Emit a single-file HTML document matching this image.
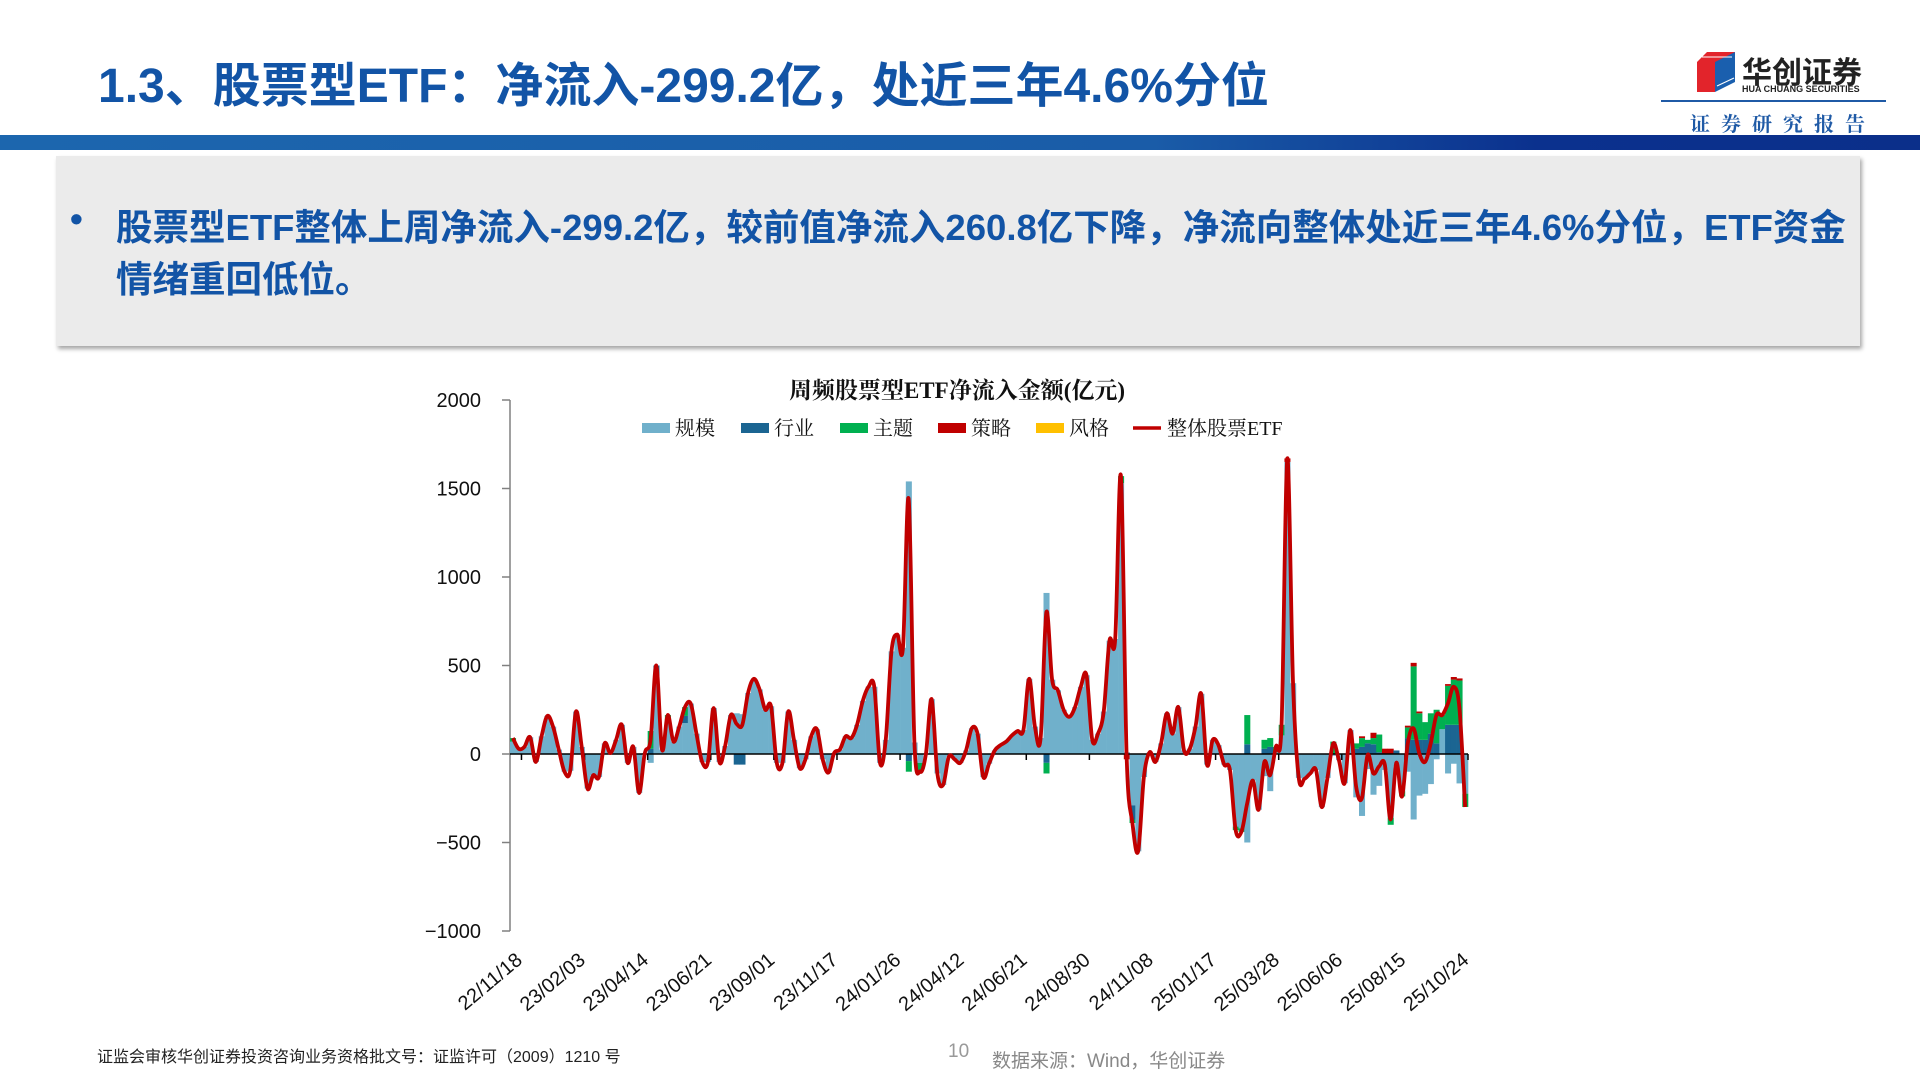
<!DOCTYPE html>
<html><head><meta charset="utf-8">
<style>
body{margin:0;width:1920px;height:1080px;background:#fff;position:relative;overflow:hidden;font-family:"Liberation Sans","Noto Sans CJK SC",sans-serif;}
.abs{position:absolute;}
#title{left:98px;top:46px;font-size:48px;font-weight:bold;color:#1254A6;white-space:nowrap;letter-spacing:0px;}
#topbar{left:0;top:135px;width:1920px;height:15px;background:linear-gradient(90deg,#1C66AE 0%,#1A5CA8 60%,#0B318E 80%,#0B2F8A 100%);}
#box{left:56px;top:156px;width:1804px;height:190px;background:#EBEBEB;box-shadow:2px 3px 4px rgba(0,0,0,0.35);}
.bt{font-size:36.5px;font-weight:bold;color:#1254A6;white-space:nowrap;}
#foot1{left:97px;top:1043px;font-size:16px;color:#222;}
#pg{left:948px;top:1041px;font-size:19px;color:#999;}
#src{left:992px;top:1046px;font-size:19px;color:#888;}
</style></head>
<body>
<div id="title" class="abs">1.3、股票型ETF：净流入-299.2亿，处近三年4.6%分位</div>
<div class="abs" style="left:1690px;top:48px;width:200px;height:100px;">
  <svg width="200" height="100">
    <polygon points="7,14 17,4 45,4 35,14" fill="#E2242B"/>
    <polygon points="7,14 25,14 25,44 7,44" fill="#E2242B"/>
    <polygon points="25,14 45,4 45,34 25,44" fill="#1A5FAE"/>
    <line x1="12" y1="9" x2="42" y2="9" stroke="#fff" stroke-width="1"/>
    <line x1="27" y1="38" x2="44" y2="30" stroke="#fff" stroke-width="1"/>
  </svg>
  <div class="abs" style="left:52px;top:0px;font-size:30px;font-weight:bold;color:#222;white-space:nowrap;">华创证券</div>
  <div class="abs" style="left:52px;top:36px;font-size:9px;font-weight:bold;color:#222;white-space:nowrap;">HUA CHUANG SECURITIES</div>
</div>
<div class="abs" style="left:1661px;top:100px;width:225px;height:2px;background:#1F5AA6;"></div>
<div class="abs" style="left:1690px;top:108px;font-size:20px;font-weight:bold;color:#1F5AA6;letter-spacing:11px;font-family:'Noto Serif CJK SC',serif;white-space:nowrap;">证券研究报告</div>
<div id="topbar" class="abs"></div>
<div id="box" class="abs"></div>
<div class="abs bt" style="left:70px;top:198px;">•</div>
<div class="abs bt" style="left:116px;top:198px;">股票型ETF整体上周净流入-299.2亿，较前值净流入260.8亿下降，净流向整体处近三年4.6%分位，ETF资金</div>
<div class="abs bt" style="left:116px;top:250px;">情绪重回低位。</div>

<svg id="chart" class="abs" style="left:0;top:0" width="1920" height="1080"></svg>

<div id="foot1" class="abs">证监会审核华创证券投资咨询业务资格批文号：证监许可（2009）1210 号</div>
<div id="pg" class="abs">10</div>
<div id="src" class="abs">数据来源：Wind，华创证券</div>

<script>
const xLabels = ['22/11/18','23/02/03','23/04/14','23/06/21','23/09/01','23/11/17','24/01/26','24/04/12','24/06/21','24/08/30','24/11/08','25/01/17','25/03/28','25/06/06','25/08/15','25/10/24'];
const yTicks = [2000,1500,1000,500,0,-500,-1000];
const seriesNames = ['规模','行业','主题','策略','风格'];
const lineName = '整体股票ETF';
const totalVals = [
90,30,40,95,-45,100,215,155,25,-100,
-95,240,40,-195,-120,-130,60,5,80,165,
-50,40,-220,5,80,500,25,220,70,155,
265,285,115,-45,-45,260,-45,45,220,170,
165,345,425,365,250,270,-50,-50,240,80,
-80,-30,100,140,-30,-105,5,25,100,90,
165,300,380,380,-50,80,580,675,600,1440,
65,-100,0,310,-110,-175,-15,-30,-50,20,
145,115,-130,-55,20,50,70,105,130,135,
425,155,90,800,420,360,250,210,265,380,
445,80,115,240,640,650,1570,-20,-390,-550,
-130,10,-45,60,230,115,265,20,30,155,
340,-60,80,50,-60,-90,-430,-440,-280,-150,
-315,-45,-120,40,165,1670,400,-135,-140,-110,
-90,-300,-135,60,-35,-165,135,-185,-250,-5,
-110,-70,-60,-370,-50,-240,60,145,5,-45,
60,220,220,285,380,260.8,-299.2];
const scaleVals = [
70,30,40,95,-45,100,215,155,25,-100,
-95,240,40,-195,-120,-130,60,5,80,165,
-50,40,-220,5,-50,440,25,190,70,155,
175,285,115,-45,-45,260,-45,45,220,230,
225,345,425,365,250,270,-50,-50,240,80,
-80,-30,100,140,-30,-105,5,25,100,90,
165,300,380,380,-50,80,580,675,600,1540,
65,-50,0,310,-110,-175,-15,-30,-50,20,
145,115,-130,-55,20,50,70,105,130,135,
425,155,90,910,420,360,250,210,265,380,
445,80,115,240,640,650,1530,10,-290,-550,
-130,10,-45,60,230,115,265,20,30,155,
340,-60,80,50,-60,-90,-410,-420,-500,-150,
-315,-125,-210,10,105,1650,400,-135,-140,-110,
-90,-300,-135,-10,-35,-165,135,-245,-350,-85,
-230,-180,-90,-360,-70,-210,-100,-370,-235,-225,
-170,-30,140,-110,-55,-166.2,-224.2];
const industryVals = [
0,0,0,0,0,0,0,0,0,0,
0,0,0,0,0,0,0,0,0,0,
0,0,0,0,30,60,0,0,0,0,
40,0,0,0,0,0,0,0,0,-60,
-60,0,0,0,0,0,0,0,0,0,
0,0,0,0,0,0,0,0,0,0,
0,0,0,0,0,0,0,0,0,-40,
0,0,0,0,0,0,0,0,0,0,
0,0,0,0,0,0,0,0,0,0,
0,0,0,-50,0,0,0,0,0,0,
0,0,0,0,0,0,0,0,-80,0,
0,0,0,0,0,0,0,0,0,0,
0,0,0,0,0,0,0,0,55,0,
0,30,40,0,0,0,0,0,0,0,
0,0,0,0,0,0,0,30,40,60,
55,10,0,0,20,0,90,80,80,80,
115,60,0,165,165,165,0];
const themeVals = [
20,0,0,0,0,0,0,0,0,0,
0,0,0,0,0,0,0,0,0,0,
0,0,0,0,100,0,0,30,0,0,
50,0,0,0,0,0,0,0,0,0,
0,0,0,0,0,0,0,0,0,0,
0,0,0,0,0,0,0,0,0,0,
0,0,0,0,0,0,0,0,0,-60,
0,-50,0,0,0,0,0,0,0,0,
0,0,0,0,0,0,0,0,0,0,
0,0,0,-60,0,0,0,0,0,0,
0,0,0,0,0,0,40,0,-20,0,
0,0,0,0,0,0,0,0,0,0,
0,0,0,0,0,0,-20,-20,165,0,
0,50,50,30,60,0,0,0,0,0,
0,0,0,70,0,0,0,30,50,20,
35,100,0,-40,0,-30,60,415,150,100,
115,190,80,220,255,250,-75];
const strategyVals = [
0,0,0,0,0,0,0,0,0,0,
0,0,0,0,0,0,0,0,0,0,
0,0,0,0,0,0,0,0,0,0,
0,0,0,0,0,0,0,0,0,0,
0,0,0,0,0,0,0,0,0,0,
0,0,0,0,0,0,0,0,0,0,
0,0,0,0,0,0,0,0,0,0,
0,0,0,0,0,0,0,0,0,0,
0,0,0,0,0,0,0,0,0,0,
0,0,0,0,0,0,0,0,0,0,
0,0,0,0,0,0,0,-30,0,0,
0,0,0,0,0,0,0,0,0,0,
0,0,0,0,0,0,0,0,0,0,
0,0,0,0,0,20,0,0,0,0,
0,0,0,0,0,0,0,0,10,0,
30,0,30,30,0,0,10,20,10,0,
0,0,0,10,15,12,0];
const styleVals = [
0,0,0,0,0,0,0,0,0,0,
0,0,0,0,0,0,0,0,0,0,
0,0,0,0,0,0,0,0,0,0,
0,0,0,0,0,0,0,0,0,0,
0,0,0,0,0,0,0,0,0,0,
0,0,0,0,0,0,0,0,0,0,
0,0,0,0,0,0,0,0,0,0,
0,0,0,0,0,0,0,0,0,0,
0,0,0,0,0,0,0,0,0,0,
0,0,0,0,0,0,0,0,0,0,
0,0,0,0,0,0,0,0,0,0,
0,0,0,0,0,0,0,0,0,0,
0,0,0,0,0,0,0,0,0,0,
0,0,0,0,0,0,0,0,0,0,
0,0,0,0,0,0,0,0,0,0,
0,0,0,0,0,0,0,0,0,0,
0,0,0,0,0,0,0];

const NS = 'http://www.w3.org/2000/svg';
const svg = document.getElementById('chart');
const X0 = 510, X1 = 1468, YMAX = 2000, YMIN = -1000, YTOP = 400, YBOT = 931;
const N = totalVals.length;
const bw = (X1 - X0) / N;
function yS(v){ return YTOP + (YMAX - v) / (YMAX - YMIN) * (YBOT - YTOP); }
function xC(i){ return X0 + bw * (i + 0.5); }
function xB(i){ return X0 + bw * i; }
function mk(tag, attrs, parent){ const e = document.createElementNS(NS, tag); for (const k in attrs) e.setAttribute(k, attrs[k]); (parent||svg).appendChild(e); return e; }
const FONT = '"Liberation Sans","Noto Sans CJK SC",sans-serif';
const SERIF = '"Liberation Serif","Noto Serif CJK SC",serif';

const t = mk('text', {x: 957, y: 398, 'text-anchor':'middle', 'font-size': 23, 'font-weight':'bold', 'font-family': SERIF, fill:'#111'});
t.textContent = '周频股票型ETF净流入金额(亿元)';



const yax = mk('line', {x1: X0, y1: YTOP, x2: X0, y2: YBOT, stroke:'#808080', 'stroke-width': 1.5});


yTicks.forEach(v => {
  const y = yS(v);
  const tk = mk('line', {x1: X0 - 8, y1: y, x2: X0, y2: y, stroke:'#808080', 'stroke-width': 1.5});
  
  
  const lb = mk('text', {x: 481, y: y + 7, 'text-anchor':'end', 'font-size': 20, 'font-family': FONT, fill:'#111'});
  lb.textContent = v < 0 ? '\u2212' + Math.abs(v) : String(v);
  
  
});

const series = [
  {vals: scaleVals, color:'#70B0CB', name:'bar-scale'},
  {vals: industryVals, color:'#1B6592', name:'bar-industry'},
  {vals: themeVals, color:'#00B050', name:'bar-theme'},
  {vals: strategyVals, color:'#C00000', name:'bar-strategy'},
  {vals: styleVals, color:'#FFC000', name:'bar-style'}
];
const barG = mk('g', {});


for (let i = 0; i < N; i++){
  let pos = 0, neg = 0;
  series.forEach(s => {
    const v = s.vals[i];
    if (!v) return;
    let ya, yb;
    if (v > 0){ ya = yS(pos + v); yb = yS(pos); pos += v; }
    else { ya = yS(neg); yb = yS(neg + v); neg += v; }
    const r = mk('rect', {x: xB(i), y: ya, width: bw + 0.3, height: Math.max(0.5, yb - ya), fill: s.color}, barG);
    
    
  });
}

const xax = mk('line', {x1: X0, y1: yS(0), x2: X1, y2: yS(0), stroke:'#000', 'stroke-width': 1.5});


xLabels.forEach((lab, k) => {
  const xi = Math.min(X1, xB(2 + 11 * k));
  const tk = mk('line', {x1: xi, y1: yS(0), x2: xi, y2: yS(0) + 6, stroke:'#000', 'stroke-width': 1.5});
  
  
  const lb = mk('text', {x: 0, y: 0, 'text-anchor':'end', 'font-size': 20, 'font-family': FONT, fill:'#111', transform: `translate(${xi + 2},${962}) rotate(-40)`});
  lb.textContent = lab;
  
  
});

let d = '';
const pts = totalVals.map((v, i) => [xC(i), yS(v)]);
for (let i = 0; i < pts.length; i++){
  if (i === 0){ d += `M${pts[0][0]},${pts[0][1]}`; continue; }
  const p0 = pts[Math.max(0, i - 2)], p1 = pts[i - 1], p2 = pts[i], p3 = pts[Math.min(pts.length - 1, i + 1)];
  const c1x = p1[0] + (p2[0] - p0[0]) / 6, c1y = p1[1] + (p2[1] - p0[1]) / 6;
  const c2x = p2[0] - (p3[0] - p1[0]) / 6, c2y = p2[1] - (p3[1] - p1[1]) / 6;
  d += ` C${c1x},${c1y} ${c2x},${c2y} ${p2[0]},${p2[1]}`;
}
const ln = mk('path', {d: d, fill:'none', stroke:'#C00000', 'stroke-width': 3.8, 'stroke-linejoin':'round'});



const legX = [642, 741, 840, 938, 1036];
const legColors = ['#70B0CB','#1B6592','#00B050','#C00000','#FFC000'];
seriesNames.forEach((nm, k) => {
  const sw = mk('rect', {x: legX[k], y: 423, width: 28, height: 10, fill: legColors[k]});
  
  
  const tx = mk('text', {x: legX[k] + 33, y: 435, 'font-size': 20, 'font-family': SERIF, fill:'#111'});
  tx.textContent = nm;
  
  
});
const ll = mk('line', {x1: 1133, y1: 428, x2: 1161, y2: 428, stroke:'#C00000', 'stroke-width': 3.5});


const lt = mk('text', {x: 1167, y: 435, 'font-size': 20, 'font-family': SERIF, fill:'#111'});
lt.textContent = lineName;


</script>
</body></html>
